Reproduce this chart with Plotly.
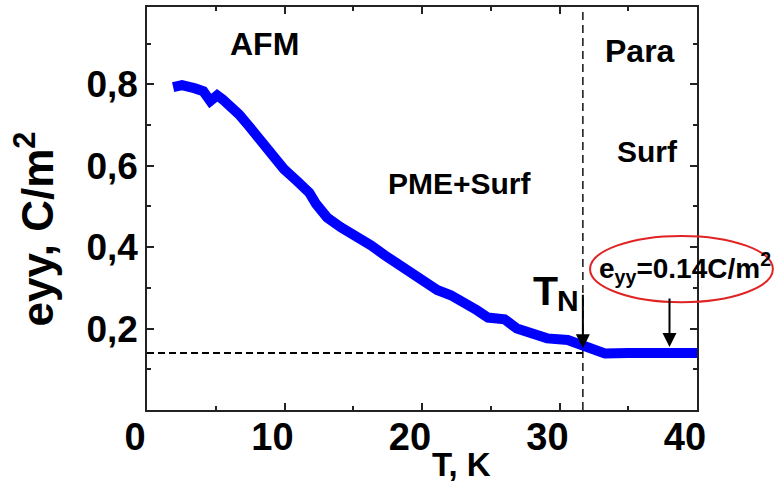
import plotly.graph_objects as go

# ---- data ----
T = [1.9, 2.55, 3.5, 4.1, 4.6, 5.1, 5.5, 6.1, 6.7, 7.4, 8.0, 8.7, 9.3, 9.95,
     10.9, 11.8, 12.3, 13.1, 14.1, 15.3, 16.3, 17.3, 18.0, 18.9, 19.9, 21.1,
     22.1, 23.1, 24.0, 24.8, 26.0, 26.9, 27.9, 29.1, 30.6, 31.6, 32.5, 33.3,
     35.0, 37.0, 38.5, 40.0]
E_YY = [0.793, 0.798, 0.790, 0.783, 0.759, 0.773, 0.763, 0.747, 0.726, 0.698,
        0.673, 0.653, 0.624, 0.592, 0.563, 0.534, 0.506, 0.473, 0.449, 0.428,
        0.404, 0.380, 0.363, 0.343, 0.318, 0.295, 0.282, 0.265, 0.245, 0.227,
        0.223, 0.200, 0.188, 0.176, 0.172, 0.159, 0.145, 0.139, 0.140, 0.141,
        0.140, 0.140]

T_N = 31.7          # Neel temperature (vertical dashed line)
E_SURF = 0.14       # surface contribution level (horizontal dashed line)

x_ticks = [0, 10, 20, 30, 40]
x_minor = [5, 15, 25, 35]
y_ticks = [0.2, 0.4, 0.6, 0.8]
y_ticktext = ["0,2", "0,4", "0,6", "0,8"]
y_minor = [0.1, 0.3, 0.5, 0.7, 0.9]

FONT = "Liberation Sans, Arial, sans-serif"
AX = "#222222"

fig = go.Figure()

# horizontal dashed reference line
fig.add_trace(go.Scatter(x=[0, T_N], y=[E_SURF, E_SURF], mode="lines",
                         line=dict(color="black", width=2, dash="7px,4px"),
                         hoverinfo="skip", showlegend=False))
# vertical dashed line at T_N
fig.add_trace(go.Scatter(x=[T_N, T_N], y=[0, 0.99], mode="lines",
                         line=dict(color="black", width=1.4, dash="8px,5px"),
                         hoverinfo="skip", showlegend=False))
# measured curve
fig.add_trace(go.Scatter(x=T, y=E_YY, mode="lines",
                         line=dict(color="#0000ff", width=10, shape="linear"),
                         showlegend=False))

axis_common = dict(showgrid=False, zeroline=False, showline=True,
                   linecolor=AX, linewidth=1.5, mirror="ticks",
                   ticks="inside", ticklen=7, tickwidth=1.5, tickcolor=AX)

fig.update_xaxes(range=[0, 40], tickmode="array", tickvals=x_ticks,
                 ticktext=[str(v) for v in x_ticks],
                 tickfont=dict(family=FONT, size=38, color="black", weight="bold"),
                 ticklabelshift=-12, ticklabelstandoff=-7,
                 minor=dict(tickmode="array", tickvals=x_minor, ticks="inside",
                            ticklen=4, tickwidth=1.5, tickcolor=AX),
                 **axis_common)
fig.update_yaxes(range=[0, 0.99], tickmode="array", tickvals=y_ticks,
                 ticktext=y_ticktext,
                 tickfont=dict(family=FONT, size=37, color="black", weight="bold"),
                 minor=dict(tickmode="array", tickvals=y_minor, ticks="inside",
                            ticklen=4, tickwidth=1.5, tickcolor=AX),
                 **axis_common)

def txt(s, x, y, size, xref="x", yref="y", angle=0):
    fig.add_annotation(text=s, x=x, y=y, xref=xref, yref=yref, showarrow=False,
                       xanchor="center", yanchor="middle", textangle=angle,
                       font=dict(family=FONT, size=size, color="black", weight="bold"))

txt("AFM", 8.55, 0.900, 32)
txt("Para", 35.85, 0.881, 32)
txt("Surf", 36.4, 0.634, 30)
txt("PME+Surf", 22.75, 0.556, 30)
txt("T", 29.0, 0.293, 41)
txt("N", 30.6, 0.268, 30)
txt("e<sub>yy</sub>=0.14C/m<sup>2</sup>", 39.13, 0.348, 28)

# axis titles
txt("eyy, C/m<sup>2</sup>", -0.2055, 0.4506, 44, xref="paper", yref="paper", angle=-90)
txt("T, K", 0.571, -0.1358, 33, xref="paper", yref="paper")

# arrows
for ax_x, tip_y, tail in [(T_N, 0.152, -55), (38.0, 0.155, -50)]:
    fig.add_annotation(x=ax_x, y=tip_y, xref="x", yref="y", text="",
                       showarrow=True, ax=0, ay=tail, arrowhead=2,
                       arrowsize=1.4, arrowwidth=2, arrowcolor="black", standoff=0)

# red ellipse
fig.add_shape(type="circle", xref="paper", yref="paper",
              x0=0.8055, x1=1.138, y0=0.2674, y1=0.432,
              line=dict(color="#e02424", width=2), layer="above")

fig.update_layout(width=774, height=490,
                  margin=dict(l=147, r=77, t=5, b=80),
                  paper_bgcolor="white", plot_bgcolor="white",
                  font=dict(family=FONT))

fig.write_html("out.html", config={"displayModeBar": False},
               post_script="document.body.style.margin='0';document.body.style.padding='0';")
